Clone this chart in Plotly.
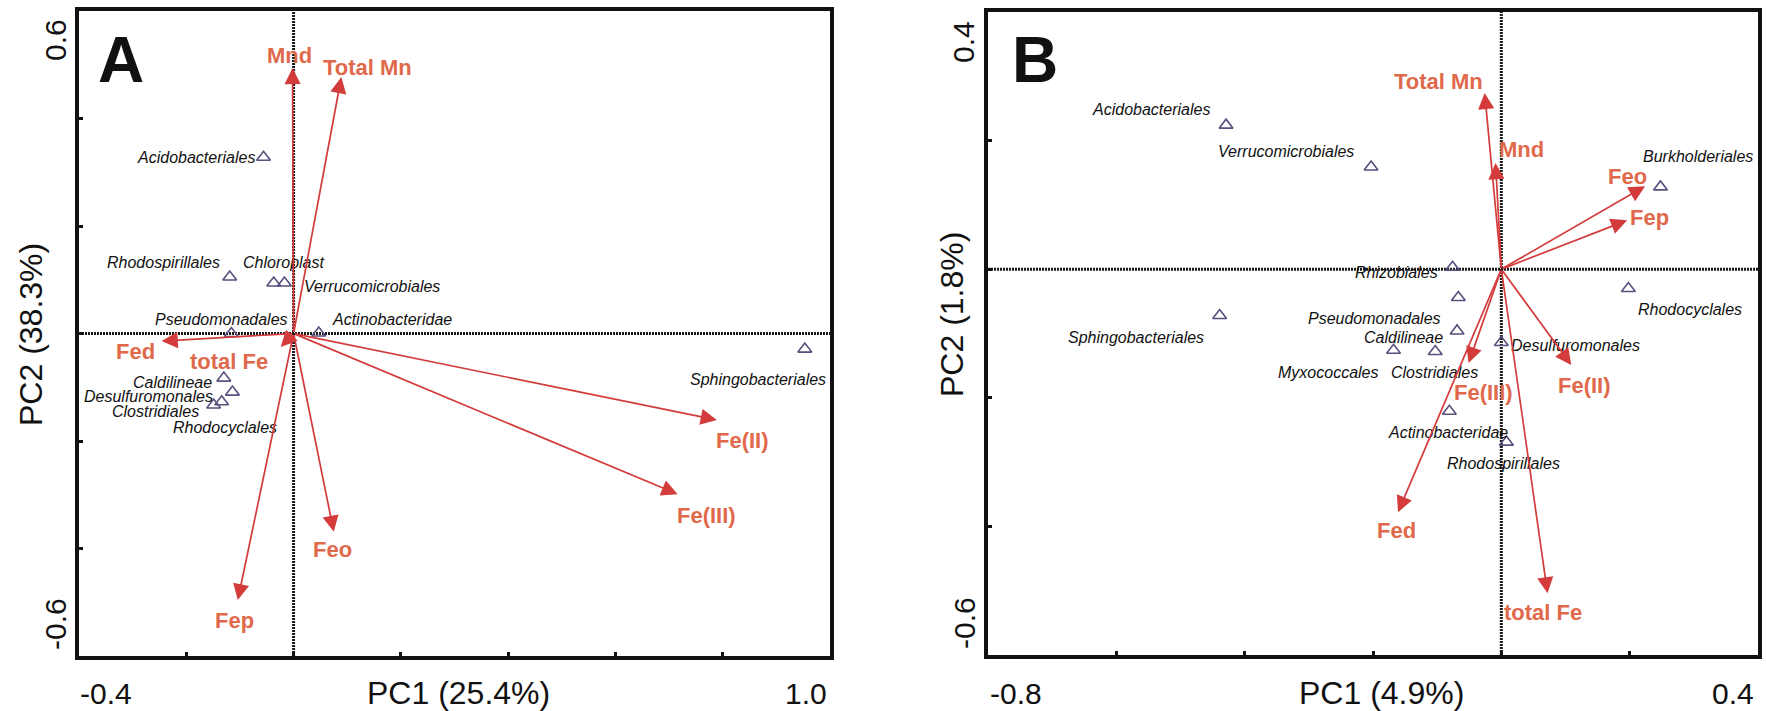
import plotly.graph_objects as go

W, H = 1766, 711

# ---------------- Data: panel A ----------------
a_species = ["Acidobacteriales", "Rhodospirillales", "Chloroplast", "Verrucomicrobiales",
             "Pseudomonadales", "Actinobacteridae", "Caldilineae", "Desulfuromonales",
             "Clostridiales", "Rhodocyclales", "Sphingobacteriales"]
a_sx = [-0.056, -0.119, -0.037, -0.017, -0.116, 0.047, -0.130, -0.114, -0.149, -0.134, 0.953]
a_sy = [0.328, 0.105, 0.094, 0.094, 0.000, 0.001, -0.083, -0.109, -0.133, -0.127, -0.029]

a_vars = ["Mnd", "Total Mn", "Fed", "total Fe", "Fep", "Feo", "Fe(II)", "Fe(III)"]
a_vx = [-0.002, 0.089, -0.246, -0.024, -0.104, 0.075, 0.789, 0.716]
a_vy = [0.494, 0.477, -0.014, -0.025, -0.496, -0.369, -0.161, -0.299]

# ---------------- Data: panel B ----------------
b_species = ["Acidobacteriales", "Verrucomicrobiales", "Burkholderiales", "Rhizobiales",
             "Rhodocyclales", "Pseudomonadales", "Caldilineae", "Myxococcales",
             "Clostridiales", "Desulfuromonales", "Actinobacteridae", "Rhodospirillales",
             "Sphingobacteriales"]
b_sx = [-0.429, -0.203, 0.248, -0.076, 0.198, -0.067, -0.069, -0.168, -0.103, 0.000, -0.081, 0.008, -0.439]
b_sy = [0.224, 0.159, 0.128, 0.003, -0.030, -0.044, -0.096, -0.126, -0.128, -0.114, -0.221, -0.269, -0.072]

b_vars = ["Total Mn", "Mnd", "Feo", "Fep", "Fe(II)", "Fe(III)", "Fed", "total Fe"]
b_vx = [-0.026, -0.009, 0.224, 0.196, 0.109, -0.051, -0.161, 0.072]
b_vy = [0.274, 0.165, 0.129, 0.076, -0.149, -0.146, -0.378, -0.504]

# axis ranges / labels
a_xrange, a_yrange = [-0.4, 1.0], [-0.6, 0.6]
b_xrange, b_yrange = [-0.8, 0.4], [-0.6, 0.4]
a_xtitle, a_ytitle = "PC1 (25.4%)", "PC2 (38.3%)"
b_xtitle, b_ytitle = "PC1 (4.9%)", "PC2 (1.8%)"

# ---------------- Styling / label placement (pixels) ----------------
ARROW = "#D43B3B"
LABEL = "#E0694B"
TRI = "#5A4F7E"
FONT = "Liberation Sans, Arial, Helvetica, sans-serif"

# (xanchor, xshift, yshift) for species labels
a_sp_pos = [("right", -7, 0), ("right", -8, 15), ("left", -33, 20), ("left", 18, -4),
            ("left", -78, 14), ("left", 11, 13), ("right", -10, -4), ("right", -17, -4),
            ("right", -13, -7), ("left", -51, -26), ("right", 23, -30)]
b_sp_pos = [("right", -14, 16), ("right", -15, 15), ("left", -19, 30), ("right", -13, -5),
            ("left", 8, -21), ("right", -15, -21), ("right", -12, -7), ("right", -14, -22),
            ("left", -46, -21), ("left", 8, -3), ("left", -63, -21), ("left", -61, -21),
            ("right", -14, -22)]
# (xshift, yshift) for variable labels (centre relative to arrow tip)
a_var_pos = [(-3, 12), (26, 10), (-26, -10), (-52, -15), (-3, -20), (-1, -18), (26, -20), (29, -21)]
b_var_pos = [(-46, 12), (26, 14), (-18, 10), (22, 3), (13, -20), (15, -29), (-2, -18), (-5, -19)]


def px(x):
    return x / W


def py(y):
    return 1 - y / H


dom_a_x = [px(79), px(830)]
dom_a_y = [py(656), py(11)]
dom_b_x = [px(988), px(1758)]
dom_b_y = [py(655), py(12)]

fig = go.Figure()
annotations = []
shapes = []


def panel(xr, yr, xa, ya, species, sx, sy, sp_pos, vars_, vx, vy, var_pos):
    fig.add_trace(go.Scatter(
        x=sx, y=sy, mode="markers", xaxis=xa, yaxis=ya,
        marker=dict(symbol="triangle-up-open", size=12, color=TRI, line=dict(width=1.6, color=TRI)),
        cliponaxis=False, showlegend=False, hoverinfo="skip"))
    xref = "x" if xa == "x" else xa
    yref = "y" if ya == "y" else ya
    # dotted zero lines
    shapes.append(dict(type="line", xref=xref, yref=yref, x0=0, x1=0, y0=yr[0], y1=yr[1],
                       line=dict(color="#1a1a1a", width=3, dash="2px,1px"), layer="below"))
    shapes.append(dict(type="line", xref=xref, yref=yref, x0=xr[0], x1=xr[1], y0=0, y1=0,
                       line=dict(color="#1a1a1a", width=3, dash="2px,1px"), layer="below"))
    for name, x, y, (anc, dx, dy) in zip(species, sx, sy, sp_pos):
        annotations.append(dict(x=x, y=y, xref=xref, yref=yref, text=f"<i>{name}</i>",
                                showarrow=False, xanchor=anc, yanchor="middle",
                                xshift=dx, yshift=dy,
                                font=dict(family=FONT, size=16, color="#111111")))
    for name, x, y, (dx, dy) in zip(vars_, vx, vy, var_pos):
        annotations.append(dict(x=x, y=y, xref=xref, yref=yref, ax=0, ay=0,
                                axref=xref, ayref=yref, text="", showarrow=True,
                                arrowhead=2, arrowsize=1.9, arrowwidth=1.7,
                                arrowcolor=ARROW, standoff=0, startstandoff=0))
        annotations.append(dict(x=x, y=y, xref=xref, yref=yref, text=f"<b>{name}</b>",
                                showarrow=False, xanchor="center", yanchor="middle",
                                xshift=dx, yshift=dy,
                                font=dict(family=FONT, size=22, color=LABEL)))


panel(a_xrange, a_yrange, "x", "y", a_species, a_sx, a_sy, a_sp_pos,
      a_vars, a_vx, a_vy, a_var_pos)
panel(b_xrange, b_yrange, "x2", "y2", b_species, b_sx, b_sy, b_sp_pos,
      b_vars, b_vx, b_vy, b_var_pos)


def ptxt(text, x, y, angle=0, size=30, bold=False):
    annotations.append(dict(x=px(x), y=py(y), xref="paper", yref="paper",
                            text=f"<b>{text}</b>" if bold else text, showarrow=False,
                            xanchor="center", yanchor="middle", textangle=angle,
                            font=dict(family=FONT, size=size, color="#111111")))


# tick labels at axis ends
ptxt(f"{a_xrange[0]:.1f}", 106, 693)
ptxt(f"{a_xrange[1]:.1f}", 806, 693)
ptxt(f"{a_yrange[1]:.1f}", 55, 40, -90)
ptxt(f"{a_yrange[0]:.1f}", 55, 624, -90)
ptxt(f"{b_xrange[0]:.1f}", 1016, 693)
ptxt(f"{b_xrange[1]:.1f}", 1733, 693)
ptxt(f"{b_yrange[1]:.1f}", 964, 42, -90)
ptxt(f"{b_yrange[0]:.1f}", 964, 623, -90)
# axis titles
ptxt(a_xtitle, 459, 693, size=32)
ptxt(a_ytitle, 31, 335, -90, size=32)
ptxt(b_xtitle, 1381, 693, size=32)
ptxt(b_ytitle, 952, 315, -90, size=32)
# panel letters
ptxt("A", 121, 60, size=64, bold=True)
ptxt("B", 1035, 60, size=64, bold=True)


def axis(dom, rng, anchor, step):
    n = int(round((rng[1] - rng[0]) / step))
    tv = [rng[0] + i * step for i in range(n + 1)]
    return dict(domain=dom, range=rng, anchor=anchor, showgrid=False, zeroline=False,
                showline=True, linecolor="#111111", linewidth=3.5, mirror=True,
                ticks="inside", ticklen=4, tickwidth=3, tickcolor="#111111",
                tickvals=tv, showticklabels=False, fixedrange=True)


fig.update_layout(
    width=W, height=H, margin=dict(l=0, r=0, t=0, b=0),
    paper_bgcolor="white", plot_bgcolor="white",
    xaxis=axis(dom_a_x, a_xrange, "y", 0.2),
    yaxis=axis(dom_a_y, a_yrange, "x", 0.2),
    xaxis2=axis(dom_b_x, b_xrange, "y2", 0.2),
    yaxis2=axis(dom_b_y, b_yrange, "x2", 0.2),
    annotations=annotations, shapes=shapes, showlegend=False,
)

fig.write_html("out.html")
